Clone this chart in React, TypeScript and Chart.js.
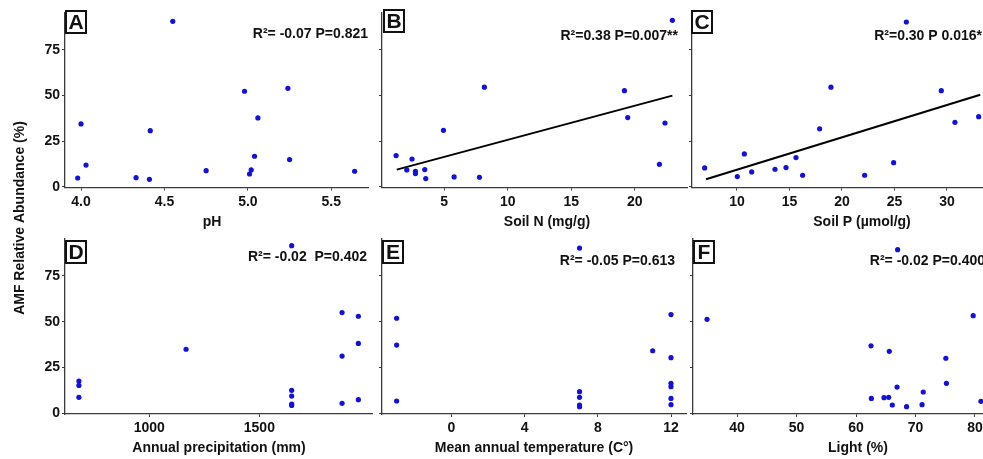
import React, { useEffect, useRef } from "react";
import { Chart, registerables } from "chart.js";

Chart.register(...registerables);

// ---------- data ----------
const abundanceTicks = [0, 25, 50, 75];

const phX = [3.98, 4.0, 4.03, 4.33, 4.41, 4.415, 4.55, 4.75, 4.98, 5.01, 5.02, 5.04, 5.06, 5.24, 5.25, 5.64];
const phY = [4.9, 34.5, 12.0, 5.1, 4.2, 30.8, 90.7, 8.9, 52.4, 7.1, 9.3, 16.8, 37.8, 54.0, 15.0, 8.6];
const phTicks = [4.0, 4.5, 5.0, 5.5];

const soilNX = [1.23, 2.07, 2.48, 2.75, 2.75, 3.48, 3.56, 4.95, 5.79, 7.78, 8.17, 19.18, 19.44, 21.93, 22.37, 22.95];
const soilNY = [17.2, 9.3, 15.3, 8.6, 7.3, 9.5, 4.6, 31.0, 5.5, 5.3, 54.6, 52.7, 38.0, 12.4, 35.0, 91.2];
const soilNTicks = [5, 10, 15, 20];
const soilNFitX = [1.28, 22.95];
const soilNFitY = [9.5, 50.0];

const soilPX = [6.92, 10.03, 10.7, 11.4, 13.62, 14.67, 15.62, 16.25, 17.87, 18.95, 22.16, 24.92, 26.13, 29.46, 30.76, 33.02];
const soilPY = [10.4, 5.7, 18.1, 8.2, 9.7, 10.6, 16.1, 6.4, 31.8, 54.6, 6.4, 13.3, 90.3, 52.7, 35.4, 38.5];
const soilPTicks = [10, 15, 20, 25, 30];
const soilPFitX = [7.05, 33.17];
const soilPFitY = [4.2, 50.5];

const precipX = [680, 680, 680, 1167, 1647, 1647, 1647, 1647, 1647, 1876, 1876, 1876, 1950, 1950, 1950];
const precipY = [17.7, 15.3, 8.8, 35.0, 91.5, 12.6, 9.5, 5.1, 4.4, 55.0, 31.3, 5.5, 53.0, 38.2, 7.5];
const precipTicks = [1000, 1500];

const tempX = [-3, -3, -3, 7, 7, 7, 7, 7, 11, 12, 12, 12, 12, 12, 12];
const tempY = [51.9, 37.3, 6.8, 90.2, 11.9, 8.8, 4.6, 3.7, 34.2, 53.9, 30.4, 16.4, 14.6, 8.2, 4.8];
const tempTicks = [0, 4, 8, 12];

const lightX = [34.96, 62.52, 62.58, 64.71, 65.49, 65.6, 66.1, 67.0, 66.9, 68.5, 71.1, 71.3, 75.1, 75.2, 79.7, 81.0];
const lightY = [51.3, 36.9, 8.2, 8.6, 8.8, 33.9, 4.6, 89.3, 14.4, 3.7, 4.8, 11.7, 30.1, 16.4, 53.3, 6.6];
const lightTicks = [40, 50, 60, 70, 80];

const yAxisTitle = "AMF Relative Abundance (%)";

// ---------- layout / style ----------
const CW = 1100;
const CH = 459;
const YW = 40;
const XH = 40;
const FONT = '"Liberation Sans", Arial, Helvetica, sans-serif';
const BLUE = "#1212cf";
const TEXT = "#111111";
const AXIS = "#3a3a3a";

type Panel = {
  xs: number[];
  ys: number[];
  fitX?: number[];
  fitY?: number[];
  xMin: number;
  xMax: number;
  xTicks: number[];
  fmt: (v: number) => string;
  yLabels: boolean;
  rect: { l: number; r: number; t: number; b: number };
  letter: string;
  box: { x: number; y: number };
  note: string;
  noteX: number;
  noteY: number;
  xTitle: string;
  titleX: number;
  titleY: number;
  yTitle?: boolean;
};

const TOP = { t: 12.7, b: 187.5 };
const BOT = { t: 238.5, b: 414 };

const PANELS: Panel[] = [
  {
    xs: phX, ys: phY, xMin: 3.904, xMax: 5.72, xTicks: phTicks, fmt: (v) => v.toFixed(1), yLabels: true,
    rect: { l: 65, r: 368, ...TOP }, letter: "A", box: { x: 65, y: 10 },
    note: "R²= -0.07 P=0.821", noteX: 368, noteY: 34, xTitle: "pH", titleX: 212, titleY: 222, yTitle: true,
  },
  {
    xs: soilNX, ys: soilNY, fitX: soilNFitX, fitY: soilNFitY, xMin: 0.12, xMax: 24.1, xTicks: soilNTicks,
    fmt: (v) => String(v), yLabels: false,
    rect: { l: 382, r: 687, ...TOP }, letter: "B", box: { x: 383, y: 9 },
    note: "R²=0.38 P=0.007**", noteX: 678, noteY: 36, xTitle: "Soil N (mg/g)", titleX: 547, titleY: 222,
  },
  {
    xs: soilPX, ys: soilPY, fitX: soilPFitX, fitY: soilPFitY, xMin: 5.714, xMax: 38.1, xTicks: soilPTicks,
    fmt: (v) => String(v), yLabels: false,
    rect: { l: 692, r: 1032, ...TOP }, letter: "C", box: { x: 691, y: 10 },
    note: "R²=0.30 P 0.016*", noteX: 982, noteY: 36, xTitle: "Soil P (µmol/g)", titleX: 862, titleY: 222,
  },
  {
    xs: precipX, ys: precipY, xMin: 616.8, xMax: 2012, xTicks: precipTicks, fmt: (v) => String(v), yLabels: true,
    rect: { l: 65, r: 372, ...BOT }, letter: "D", box: { x: 65, y: 240 },
    note: "R²= -0.02  P=0.402", noteX: 367, noteY: 257, xTitle: "Annual precipitation (mm)", titleX: 219, titleY: 448,
  },
  {
    xs: tempX, ys: tempY, xMin: -3.8, xMax: 12.82, xTicks: tempTicks, fmt: (v) => String(v), yLabels: false,
    rect: { l: 382, r: 686, ...BOT }, letter: "E", box: { x: 382, y: 240 },
    note: "R²= -0.05 P=0.613", noteX: 675, noteY: 261, xTitle: "Mean annual temperature (C°)", titleX: 534, titleY: 448,
  },
  {
    xs: lightX, ys: lightY, xMin: 32.6, xMax: 88.07, xTicks: lightTicks, fmt: (v) => String(v), yLabels: false,
    rect: { l: 693, r: 1023, ...BOT }, letter: "F", box: { x: 693, y: 240 },
    note: "R²= -0.02 P=0.400", noteX: 985, noteY: 261, xTitle: "Light (%)", titleX: 858, titleY: 448,
  },
];

const decorPlugin = {
  id: "decor",
  afterDraw(chart: any, _args: any, opts: any) {
    const p: Panel = opts.panel;
    if (!p) return;
    const ctx = chart.ctx as CanvasRenderingContext2D;
    ctx.save();
    // panel letter box
    const bw = 22, bh = 24;
    ctx.fillStyle = "#ffffff";
    ctx.fillRect(p.box.x, p.box.y, bw, bh);
    ctx.lineWidth = 2;
    ctx.strokeStyle = "#111111";
    ctx.strokeRect(p.box.x + 1, p.box.y + 1, bw - 2, bh - 2);
    ctx.fillStyle = TEXT;
    ctx.font = `bold 21px ${FONT}`;
    ctx.textAlign = "center";
    ctx.textBaseline = "middle";
    ctx.fillText(p.letter, p.box.x + bw / 2, p.box.y + bh / 2 + 1);
    // statistics annotation
    ctx.font = `bold 14px ${FONT}`;
    ctx.textAlign = "right";
    ctx.fillText(p.note, p.noteX, p.noteY);
    // x title
    ctx.textAlign = "center";
    ctx.fillText(p.xTitle, p.titleX, p.titleY);
    // shared y title
    if (p.yTitle) {
      ctx.translate(20, 218);
      ctx.rotate(-Math.PI / 2);
      ctx.fillText(yAxisTitle, 0, 0);
    }
    ctx.restore();
  },
};

function makeConfig(p: Panel): any {
  const datasets: any[] = [
    {
      data: p.xs.map((x, i) => ({ x, y: p.ys[i] })),
      pointRadius: 2.6,
      pointBackgroundColor: BLUE,
      pointBorderWidth: 0,
      showLine: false,
      order: 1,
    },
  ];
  if (p.fitX && p.fitY) {
    const fy = p.fitY;
    datasets.push({
      data: p.fitX.map((x, i) => ({ x, y: fy[i] })),
      showLine: true,
      borderColor: "#000000",
      borderWidth: 2,
      pointRadius: 0,
      fill: false,
      order: 2,
    });
  }
  const tickFont = { family: FONT, size: 14, weight: "bold" as const };
  const grid = { drawOnChartArea: false, drawTicks: true, tickLength: 3, color: AXIS, lineWidth: 1 };
  const border = { display: true, color: AXIS, width: 1.3 };
  return {
    type: "scatter",
    data: { datasets },
    options: {
      responsive: false,
      animation: false,
      events: [],
      layout: {
        padding: { left: p.rect.l - YW, top: p.rect.t, right: CW - p.rect.r, bottom: CH - p.rect.b - XH },
      },
      plugins: { legend: { display: false }, tooltip: { enabled: false }, decor: { panel: p } },
      scales: {
        x: {
          type: "linear",
          position: "bottom",
          min: p.xMin,
          max: p.xMax,
          afterBuildTicks: (s: any) => {
            s.ticks = p.xTicks.map((v) => ({ value: v }));
          },
          afterFit: (s: any) => {
            s.height = XH;
          },
          ticks: { font: tickFont, color: TEXT, padding: 3, maxRotation: 0, autoSkip: false, callback: (v: any) => p.fmt(Number(v)) },
          grid,
          border,
        },
        y: {
          type: "linear",
          position: "left",
          min: -0.3,
          max: 95.4,
          afterBuildTicks: (s: any) => {
            s.ticks = abundanceTicks.map((v) => ({ value: v }));
          },
          afterFit: (s: any) => {
            s.width = YW;
          },
          ticks: { font: tickFont, color: TEXT, padding: 2, callback: (v: any) => (p.yLabels ? String(v) : "") },
          grid,
          border,
        },
      },
    },
    plugins: [decorPlugin],
  };
}

export default function App() {
  const refs = useRef<(HTMLCanvasElement | null)[]>([]);
  useEffect(() => {
    document.body.style.margin = "0";
    const charts = PANELS.map((p, i) => new Chart(refs.current[i] as HTMLCanvasElement, makeConfig(p)));
    return () => charts.forEach((c) => c.destroy());
  }, []);
  return (
    <div style={{ position: "fixed", left: 0, top: 0, width: 983, height: 459, overflow: "hidden", background: "#ffffff" }}>
      {PANELS.map((p, i) => (
        <canvas
          key={p.letter}
          ref={(el) => {
            refs.current[i] = el;
          }}
          width={CW}
          height={CH}
          style={{ position: "absolute", left: 0, top: 0, width: CW, height: CH }}
        />
      ))}
    </div>
  );
}
